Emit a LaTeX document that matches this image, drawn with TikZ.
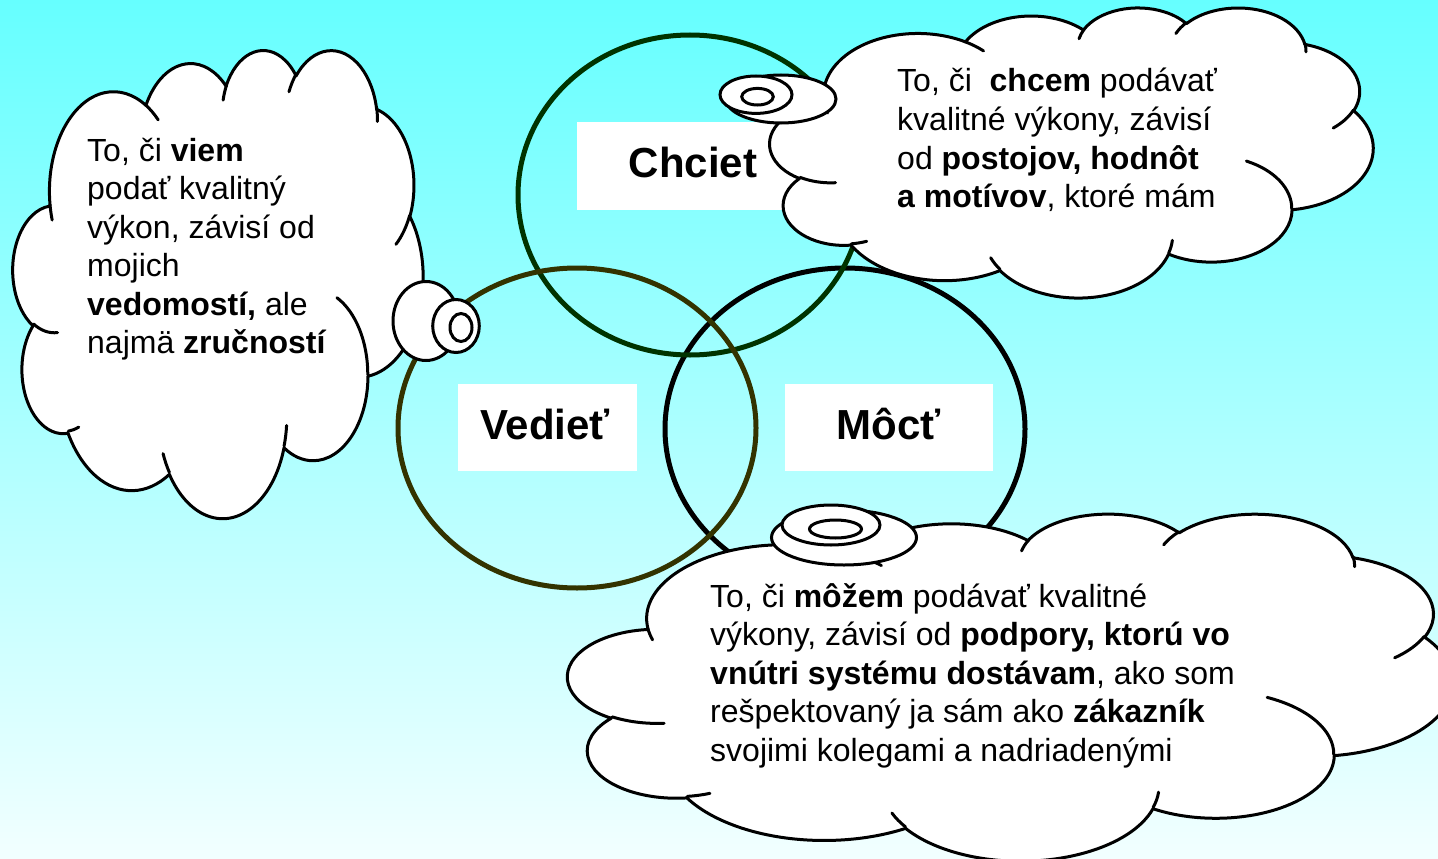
\documentclass[tikz,border=0pt]{standalone}
\usepackage{fontspec}
\setmainfont{Liberation Sans}
\definecolor{bgtop}{HTML}{66FFFF}
\definecolor{bgbot}{HTML}{F2FFFF}
\definecolor{cgreen}{HTML}{003300}
\definecolor{colive}{HTML}{333300}

% elliptic arc with DrawingML-style (geometric) angles, appended to current pgf path
\newcommand\carc[4]{%
  \pgfmathsetmacro\cA{atan2((#1)*sin(#3),(#2)*cos(#3))}%
  \pgfmathsetmacro\cB{atan2((#1)*sin((#3)+(#4)),(#2)*cos((#3)+(#4)))}%
  \pgfmathsetmacro\cD{(\cB)-(\cA)}%
  \pgfmathsetmacro\cD{(\cD)-360*floor((\cD)/360)}%
  \pgfmathsetmacro\cE{(\cA)+(\cD)}%
  \pgfpatharcaxes{\cA}{\cE}{\pgfpointxy{#1}{0}}{\pgfpointxy{0}{#2}}%
}
\newcommand\cmove[2]{\pgfpathmoveto{\pgfpointxy{#1}{#2}}}

% cloud in a 432 x 432 frame, placed at (#1,#2) with size #3 x #4
\newcommand\drawcloud[4]{%
\begin{scope}[shift={(#1,#2)},xscale=#3/432,yscale=#4/432]
  \pgfsetlinewidth{3pt}\pgfsetroundjoin\pgfsetroundcap
  \pgfsetstrokecolor{black}\pgfsetfillcolor{white}
  \cmove{39.00}{143.70}
  \carc{67.53}{91.90}{-190.4875}{123.7805}
  \carc{53.33}{72.67}{-144.1024}{89.9452}
  \carc{43.65}{59.45}{-145.8079}{99.7230}
  \carc{48.57}{65.95}{-130.9861}{117.2417}
  \carc{53.33}{72.73}{-78.7089}{109.0269}
  \carc{67.75}{92.20}{-46.2673}{130.2690}
  \carc{57.85}{78.67}{0.6250}{114.0333}
  \carc{67.52}{92.15}{22.4516}{115.1726}
  \carc{77.20}{105.43}{66.2426}{75.7110}
  \carc{43.60}{59.18}{-274.9421}{146.7356}
  \carc{43.45}{59.45}{-246.8285}{152.5189}
  \pgfpathclose
  \pgfusepath{fill,stroke}
  \cmove{46.93}{261.77}\carc{43.45}{59.45}{86.7420}{26.4295}
  \cmove{69.28}{348.99}\carc{43.60}{59.18}{73.6105}{11.4475}
  \cmove{164.78}{390.90}\carc{67.52}{92.15}{137.6242}{14.0811}
  \cmove{288.27}{347.51}\carc{67.52}{92.15}{6.4533}{15.9984}
  \cmove{341.29}{229.54}\carc{57.85}{78.67}{-70.2924}{70.9174}
  \cmove{417.98}{153.54}\carc{53.33}{72.73}{30.3180}{27.7515}
  \cmove{383.24}{54.26}\carc{48.57}{65.95}{-13.7443}{14.8589}
  \cmove{290.78}{39.52}\carc{48.57}{65.95}{-149.1815}{18.1954}
  \cmove{221.41}{47.20}\carc{43.65}{59.45}{-163.4943}{17.6864}
  \cmove{140.00}{51.92}\carc{67.53}{91.90}{-66.7070}{12.3194}
  \cmove{41.27}{157.89}\carc{67.53}{91.90}{157.6544}{11.8582}
  \pgfusepath{stroke}
\end{scope}}

\begin{document}
\begin{tikzpicture}[x=1pt,y=-1pt,
  ring/.style={line width=5pt},
  lbox/.style={fill=white, inner sep=0pt, outer sep=0pt},
  lbl/.style={font=\fontsize{42}{50}\selectfont\bfseries, anchor=base, inner sep=0pt},
  txt/.style={font=\fontsize{32}{38.5}\selectfont, anchor=base west, inner sep=0pt},
  bub/.style={draw=black, fill=white, line width=3pt}]
\useasboundingbox (0,0) rectangle (1438,859);
\shade[top color=bgtop, bottom color=bgbot] (0,0) rectangle (1438,859);

% three rings
\draw[ring, black]  (845,429) ellipse [x radius=180, y radius=161];
\draw[ring, cgreen] (690,195) ellipse [x radius=172, y radius=160];
\draw[ring, colive] (577,428) ellipse [x radius=179, y radius=160];

% label boxes
\node[lbox, minimum width=232pt, minimum height=88pt] (chbox) at (693,166) {};
\node[lbox, minimum width=179pt, minimum height=87pt] (vebox) at (547.5,427.5) {};
\node[lbox, minimum width=208pt, minimum height=87pt] (mobox) at (889,427.5) {};
\node[lbl] (chl) at (693,177) {Chciet};
\node[lbl] (vel) at (545,439) {Vedieť};
\node[lbl] (mol) at (889,439) {Môcť};

% left cloud
\drawcloud{13}{49}{410}{468}
\draw[bub] (426,321) ellipse [x radius=33, y radius=39.5];
\draw[bub] (456,326) ellipse [x radius=23.3, y radius=26.5];
\draw[bub] (461,327.5) ellipse [x radius=11, y radius=14];
\node[txt] (l1) at (87,161) {To, či \textbf{viem}};
\node[txt] (l2) at (87,199.5) {podať kvalitný};
\node[txt] (l3) at (87,238) {výkon, závisí od};
\node[txt] (l4) at (87,276.5) {mojich};
\node[txt] (l5) at (87,315) {\textbf{vedomostí,} ale};
\node[txt] (l6) at (87,353.5) {najmä \textbf{zručností}};

% top right cloud
\drawcloud{770}{7}{603}{290}
\draw[bub] (781,99) ellipse [x radius=55, y radius=24];
\draw[bub] (756,94.7) ellipse [x radius=36, y radius=18.7];
\draw[bub] (757.5,96.7) ellipse [x radius=15.8, y radius=8.3];
\node[txt] (r1) at (897,92) {To, či\ \ \textbf{chcem} podávať};
\node[txt] (r2) at (897,130.5) {kvalitné výkony, závisí};
\node[txt] (r3) at (897,169) {od \textbf{postojov, hodnôt}};
\node[txt] (r4) at (897,207.5) {\textbf{a motívov}, ktoré mám};

% bottom cloud
\drawcloud{568}{513}{885}{347}
\draw[bub] (844,537.5) ellipse [x radius=72.5, y radius=27.5];
\draw[bub] (831,525) ellipse [x radius=49, y radius=20];
\draw[bub] (835.5,529) ellipse [x radius=26, y radius=9];
\node[txt] (b1) at (710,607) {To, či \textbf{môžem} podávať kvalitné};
\node[txt] (b2) at (710,645.5) {výkony, závisí od \textbf{podpory, ktorú vo}};
\node[txt] (b3) at (710,684) {\textbf{vnútri systému dostávam}, ako som};
\node[txt] (b4) at (710,722.5) {rešpektovaný ja sám ako \textbf{zákazník}};
\node[txt] (b5) at (710,761) {svojimi kolegami a nadriadenými};
\end{tikzpicture}
\end{document}
